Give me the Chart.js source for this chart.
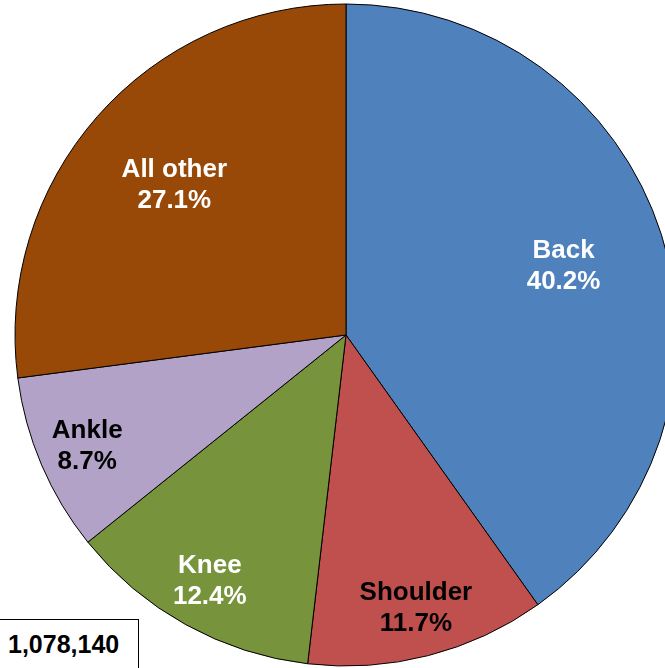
<!DOCTYPE html>
<html>
<head>
<meta charset="utf-8">
<script src="https://cdn.jsdelivr.net/npm/chart.js@4.4.0/dist/chart.umd.min.js"></script>
<style>
  html, body { margin: 0; padding: 0; background: #fff; overflow: hidden; width: 665px; height: 668px; }
  #wrap { position: relative; width: 665px; height: 668px; overflow: hidden; }
  #pieChart { position: absolute; left: 0; top: 0; }
  #totalBox {
    position: absolute; left: -1px; top: 619px; width: 140px; height: 52px;
    border: 1px solid #000; background: #fff; box-sizing: border-box;
    font: bold 25px "Liberation Sans", Arial, sans-serif; color: #000;
    padding: 10px 0 0 8px;
  }
</style>
</head>
<body>
<div id="wrap">
  <canvas id="pieChart" width="692" height="670"></canvas>
  <div id="totalBox">1,078,140</div>
</div>
<script>
const categories = ['Back', 'Shoulder', 'Knee', 'Ankle', 'All other'];
const percentages = [40.2, 11.7, 12.4, 8.7, 27.1];
const sliceColors = ['#4F81BD', '#C0504D', '#77933C', '#B2A2C7', '#984807'];
const labelColors = ['#FFFFFF', '#000000', '#FFFFFF', '#000000', '#FFFFFF'];

const ctx = document.getElementById('pieChart').getContext('2d');

// draw "name / pct%" inside each slice, like the excel labels
const sliceLabels = {
    id: 'sliceLabels',
    afterDatasetsDraw(chart) {
        const c = chart.ctx;
        const arcs = chart.getDatasetMeta(0).data;
        c.save();
        c.font = 'bold 26px "Liberation Sans", Arial, sans-serif';
        c.textAlign = 'center';
        c.textBaseline = 'middle';
        arcs.forEach((arc, i) => {
            const p = arc.getProps(['x', 'y', 'startAngle', 'endAngle', 'outerRadius'], true);
            const mid = (p.startAngle + p.endAngle) / 2;
            const frac = percentages[i] > 20 ? 0.69 : 0.85;
            const lx = p.x + Math.cos(mid) * p.outerRadius * frac;
            const ly = p.y + Math.sin(mid) * p.outerRadius * frac;
            c.fillStyle = labelColors[i];
            c.fillText(categories[i], lx, ly - 15);
            c.fillText(percentages[i].toFixed(1) + '%', lx, ly + 16);
        });
        c.restore();
    }
};

const pieChart = new Chart(ctx, {
    type: 'pie',
    data: {
        labels: categories,
        datasets: [{
            data: percentages,
            backgroundColor: sliceColors,
            borderColor: '#000000',
            borderWidth: 1
        }]
    },
    options: {
        responsive: false,
        animation: false,
        radius: 331,
        layout: { padding: 0 },
        plugins: {
            legend: { display: false },
            tooltip: { enabled: false }
        }
    },
    plugins: [sliceLabels]
});
</script>
</body>
</html>
